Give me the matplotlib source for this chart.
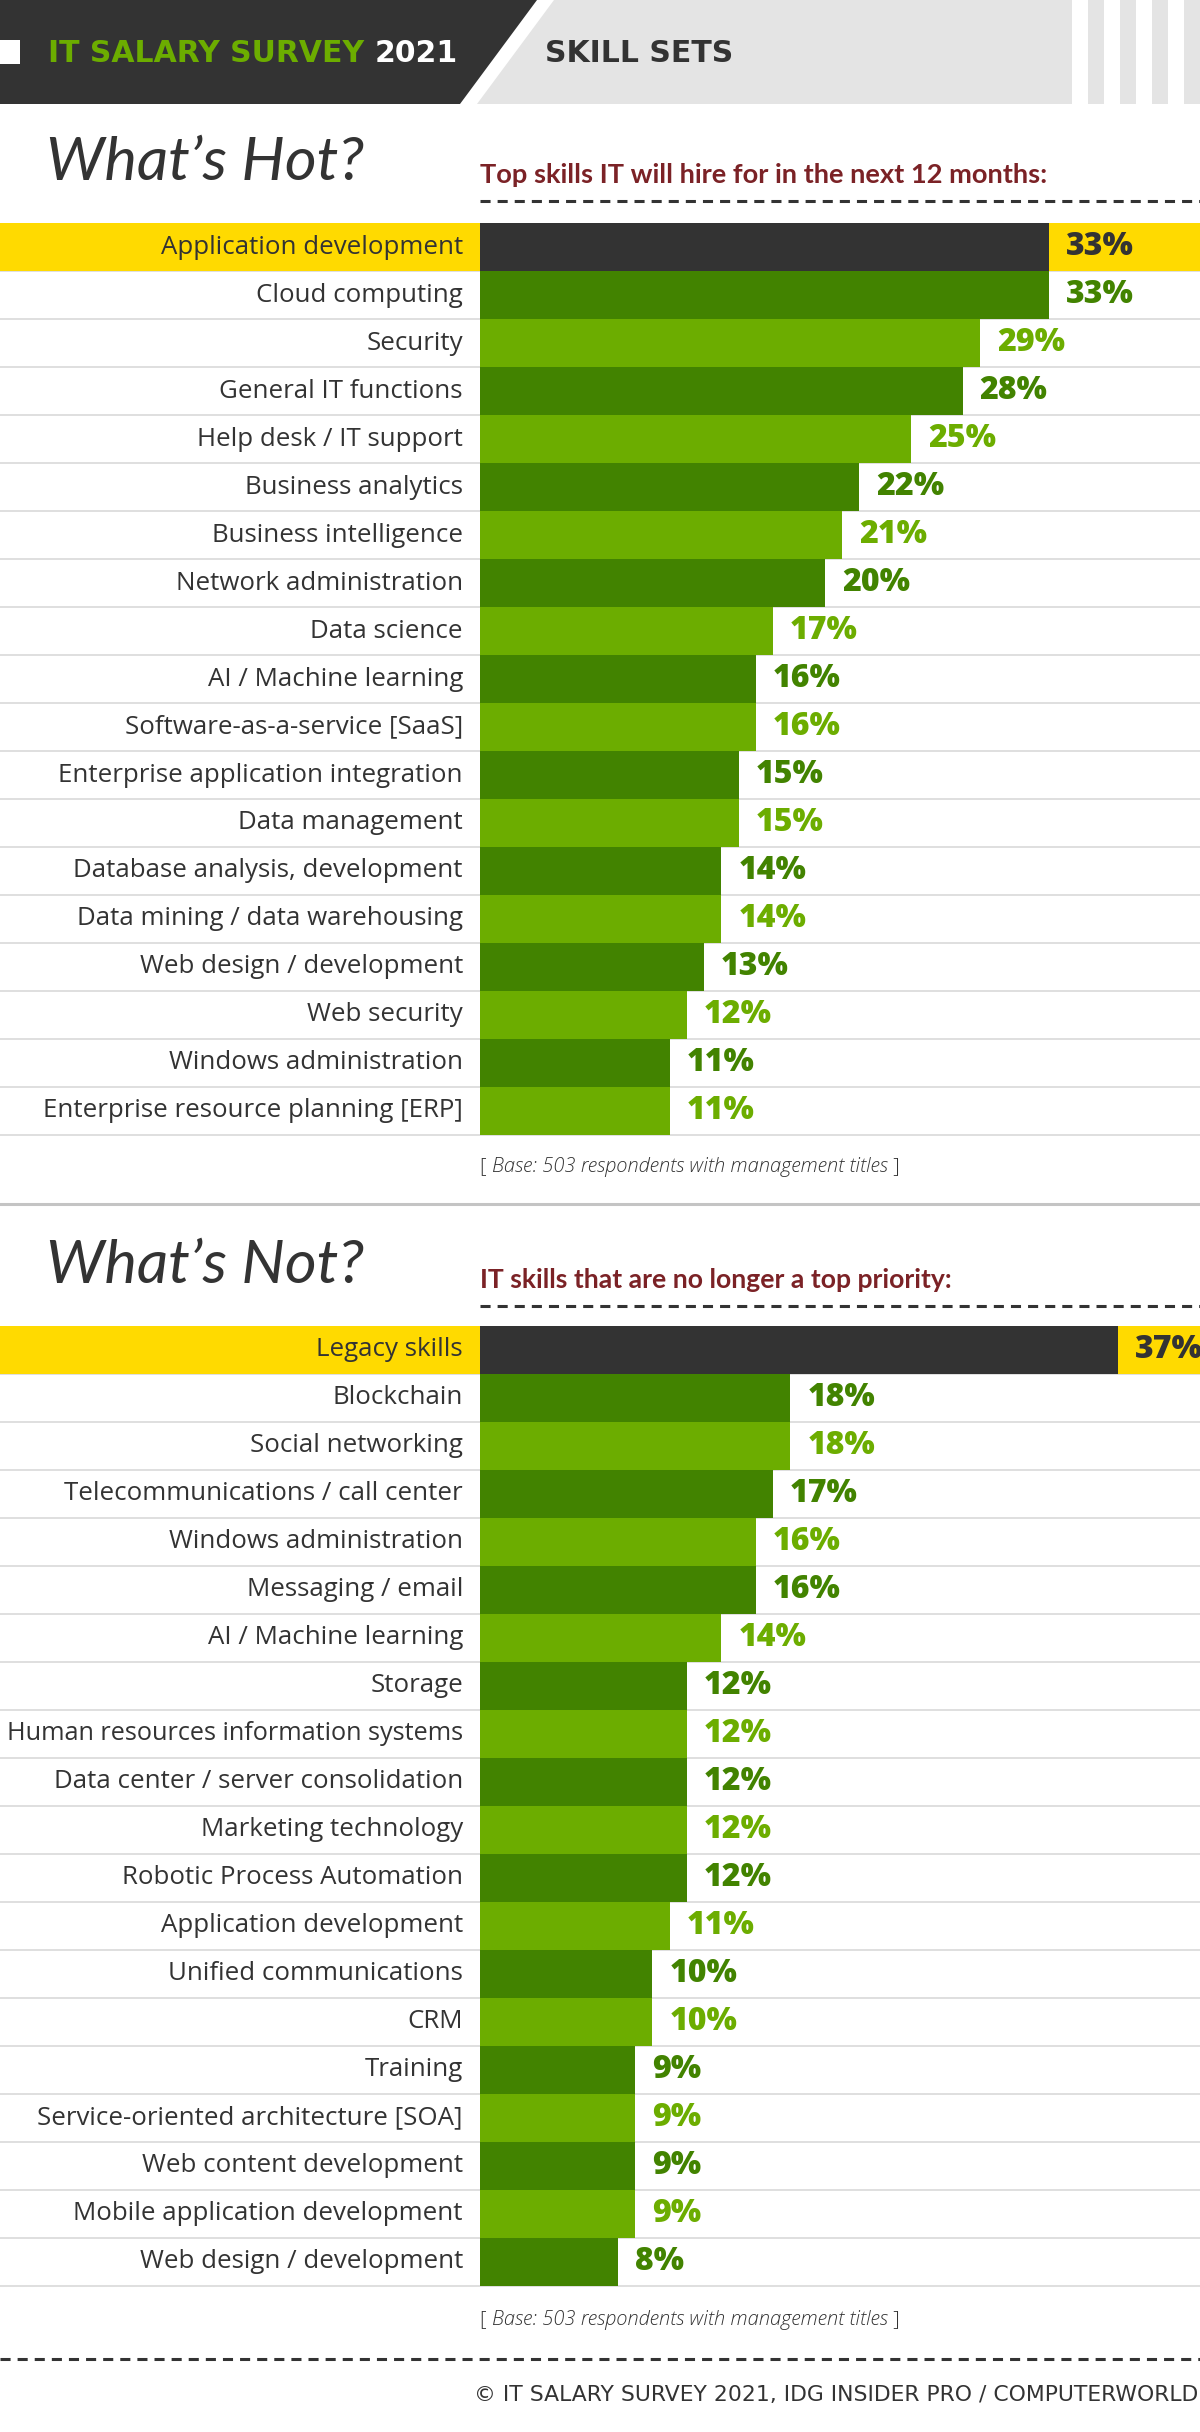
import matplotlib
matplotlib.use("Agg")
import matplotlib.pyplot as plt
from matplotlib.patches import Polygon, Rectangle

# data
hot_skills = ["Application development", "Cloud computing", "Security",
              "General IT functions", "Help desk / IT support", "Business analytics",
              "Business intelligence", "Network administration", "Data science",
              "AI / Machine learning", "Software-as-a-service [SaaS]",
              "Enterprise application integration", "Data management",
              "Database analysis, development", "Data mining / data warehousing",
              "Web design / development", "Web security", "Windows administration",
              "Enterprise resource planning [ERP]"]
hot_pct = [33, 33, 29, 28, 25, 22, 21, 20, 17, 16, 16, 15, 15, 14, 14, 13, 12, 11, 11]

not_skills = ["Legacy skills", "Blockchain", "Social networking",
              "Telecommunications / call center", "Windows administration",
              "Messaging / email", "AI / Machine learning", "Storage",
              "Human resources information systems", "Data center / server consolidation",
              "Marketing technology", "Robotic Process Automation",
              "Application development", "Unified communications", "CRM", "Training",
              "Service-oriented architecture [SOA]", "Web content development",
              "Mobile application development", "Web design / development"]
not_pct = [37, 18, 18, 17, 16, 16, 14, 12, 12, 12, 12, 12, 11, 10, 10, 9, 9, 9, 9, 8]

base_note = "Base: 503 respondents with management titles"

# layout (pixels)
W, H = 1200, 2432
PX = 17.24      # pixels per percentage point
BAR_X0 = 480
ROW = 48

DARK = "#333333"
YELLOW = "#ffda00"
GREEN_D = "#428300"
GREEN_L = "#6cad00"
GREY_BG = "#e4e4e4"
RED = "#7b2226"
RULE = "#dcdcdc"

NARROW = ["Lato", "DejaVu Sans"]
SANS = ["Open Sans", "DejaVu Sans"]

fig = plt.figure(figsize=(12, 24.32), dpi=100)
renderer = fig.canvas.get_renderer()
bg = fig.add_axes([0, 0, 1, 1])
bg.set_xlim(0, W)
bg.set_ylim(H, 0)
bg.axis("off")


def fit(t, width):
    # scale font size so the text spans the measured width in the reference
    w = t.get_window_extent(renderer=renderer).width
    t.set_fontsize(t.get_fontsize() * width / w)
    return t


# header band
bg.add_patch(Polygon([(0, 0), (537, 0), (460, 104), (0, 104)], color=DARK, lw=0))
bg.add_patch(Polygon([(554, 0), (1072, 0), (1072, 104), (477, 104)], color=GREY_BG, lw=0))
for x in (1088, 1120, 1152, 1184):
    bg.add_patch(Rectangle((x, 0), 16, 104, color=GREY_BG, lw=0))
bg.add_patch(Rectangle((0, 40), 20, 24, color="white", lw=0))

t1 = bg.text(48, 53, "IT SALARY SURVEY ", color=GREEN_L, fontsize=21.5,
             fontweight="bold", family="DejaVu Sans", va="center", ha="left")
bg.annotate("2021", xy=(1, 0.5), xycoords=t1, va="center", ha="left",
            color="white", fontsize=21.5, fontweight="bold", family="DejaVu Sans")
bg.text(545, 53, "SKILL SETS", color=DARK, fontsize=21.5, fontweight="bold",
        family="DejaVu Sans", va="center", ha="left")


def section_head(y_title, y_sub, title, sub, sub_w):
    t = bg.text(46, y_title, title, fontsize=47, style="italic", fontweight="normal",
                family=NARROW, color=DARK, va="center", ha="left")
    fit(t, 318)
    s = bg.text(480, y_sub, sub, fontsize=19, fontweight="bold", family=NARROW,
                color=RED, va="center", ha="left")
    fit(s, sub_w)
    bg.plot([480, W], [y_sub + 26, y_sub + 26], color=DARK, lw=2.2,
            linestyle=(0, (3.3, 2.3)), solid_capstyle="butt")


def note(y):
    a = bg.text(480, y, "[ ", fontsize=13, family=SANS, fontweight="light",
                color=DARK, va="center", ha="left")
    b = bg.annotate(base_note, xy=(1, 0.5), xycoords=a, va="center", ha="left",
                    fontsize=13, style="italic", fontweight="light", family=SANS,
                    color=DARK)
    fit(b, 395)
    a.set_fontsize(b.get_fontsize())
    bg.annotate(" ]", xy=(1, 0.5), xycoords=b, va="center", ha="left",
                fontsize=b.get_fontsize(), family=SANS, fontweight="light", color=DARK)


def panel(top, skills, pct):
    n = len(skills)
    ax = fig.add_axes([0, 1 - (top + n * ROW) / H, 1, n * ROW / H])
    ax.set_xlim(-BAR_X0 / PX, (W - BAR_X0) / PX)
    ax.set_ylim(n - 0.5, -0.5)
    ax.axis("off")
    for i in range(n):
        ax.axhline(i + 0.5, color=RULE, lw=1.3, zorder=0, clip_on=False)
    ax.axhspan(-0.5, 0.5, color=YELLOW, lw=0, zorder=0.5)
    colors = [DARK] + [GREEN_D if i % 2 else GREEN_L for i in range(1, n)]
    ax.barh(range(n), pct, height=1.0, color=colors, lw=0, zorder=2)
    for i, (s, v) in enumerate(zip(skills, pct)):
        lab = ax.text(-17 / PX, i, s, ha="right", va="center", fontsize=18.6,
                      family=SANS, color=DARK)
        # keep the longest labels inside the left edge
        if lab.get_window_extent(renderer=renderer).width > 459:
            fit(lab, 459)
        ax.text(v + 17 / PX, i, f"{v}%", ha="left", va="center", fontsize=23,
                fontweight=800, family=SANS, color=colors[i], clip_on=True)


section_head(163, 175, "What\u2019s Hot?",
             "Top skills IT will hire for in the next 12 months:", 568)
panel(223, hot_skills, hot_pct)
note(1167)
bg.plot([0, W], [1204, 1204], color="#c4c4c4", lw=2.2)

section_head(1266, 1280, "What\u2019s Not?",
             "IT skills that are no longer a top priority:", 470)
panel(1326, not_skills, not_pct)
note(2320)

bg.plot([0, W], [2359, 2359], color=DARK, lw=2.2, linestyle=(0, (3.3, 2.3)),
        solid_capstyle="butt")
foot = bg.text(1198, 2395, "\u00a9 IT SALARY SURVEY 2021, IDG INSIDER PRO / COMPUTERWORLD",
               fontsize=14.5, family="DejaVu Sans", color=DARK, va="center", ha="right")
fit(foot, 727)

fig.savefig("out.png", dpi=100)
